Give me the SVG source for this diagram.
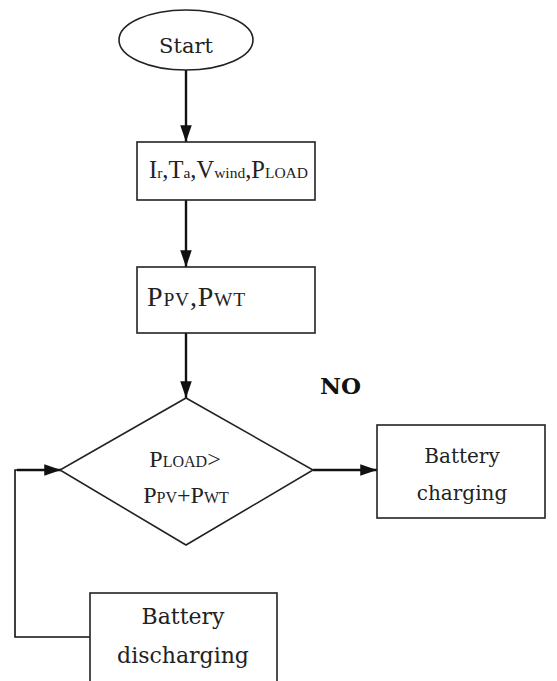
<svg xmlns="http://www.w3.org/2000/svg" width="557" height="681" viewBox="0 0 557 681">
<style>
.shape{fill:#fff;stroke:#222;stroke-width:1.6}
.lbl{font-family:"DejaVu Serif","Liberation Serif",serif;fill:#222;text-anchor:middle}
.math{font-family:"Liberation Serif","DejaVu Serif",serif;fill:#222}
.conn{fill:none;stroke:#111;stroke-width:2.4}
.thin{fill:none;stroke:#111;stroke-width:1.6}
.no{font-family:"DejaVu Serif","Liberation Serif",serif;font-size:23px;font-weight:bold;fill:#111}
</style>
<defs>
<marker id="ah" viewBox="0 0 16 11" refX="16" refY="5.5" markerWidth="7" markerHeight="4.8" markerUnits="strokeWidth" orient="auto">
<path d="M0,0 L16,5.5 L0,11 z" fill="#111"/>
</marker>
</defs>
<rect width="557" height="681" fill="#fff"/>
<g id="connectors">
<line class="conn" x1="186" y1="70" x2="186" y2="142" marker-end="url(#ah)"/>
<line class="conn" x1="186" y1="200" x2="186" y2="267" marker-end="url(#ah)"/>
<line class="conn" x1="186" y1="333" x2="186" y2="398" marker-end="url(#ah)"/>
<line class="conn" x1="313" y1="470" x2="377" y2="470" marker-end="url(#ah)"/>
<polyline class="thin" points="90,637 15,637 15,470 30,470"/>
<line class="conn" x1="17" y1="470" x2="61" y2="470" marker-end="url(#ah)"/>
</g>
<g id="start">
<ellipse class="shape" cx="186" cy="40" rx="67" ry="30"/>
<text class="lbl" x="186" y="53" style="font-size:21px">Start</text>
</g>
<g id="inputs">
<rect class="shape" x="137" y="142" width="178" height="58"/>
<text class="math" x="149" y="178" style="font-size:24.5px">I<tspan style="font-size:15.5px">r</tspan>,T<tspan style="font-size:15.5px">a</tspan>,V<tspan style="font-size:15.5px">wind</tspan>,P<tspan style="font-size:15.5px">LOAD</tspan></text>
</g>
<g id="power">
<rect class="shape" x="137" y="267" width="178" height="66"/>
<text class="math" x="147" y="306" style="font-size:28px;letter-spacing:0.8px">P<tspan style="font-size:19.5px">PV</tspan>,P<tspan style="font-size:19.5px">WT</tspan></text>
</g>
<g id="decision">
<polygon class="shape" points="186,398 313,470 186,545 60,470"/>
<text class="math" x="185" y="467" text-anchor="middle" style="font-size:24px">P<tspan style="font-size:16px">LOAD</tspan>&gt;</text>
<text class="math" x="186" y="503" text-anchor="middle" style="font-size:24px">P<tspan style="font-size:16px">PV</tspan>+P<tspan style="font-size:16px">WT</tspan></text>
</g>
<text class="no" x="320" y="394">NO</text>
<g id="charging">
<rect class="shape" x="377" y="425" width="168" height="93"/>
<text class="lbl" x="462" y="463" style="font-size:20px">Battery</text>
<text class="lbl" x="462" y="500" style="font-size:20px">charging</text>
</g>
<g id="discharging">
<rect class="shape" x="90" y="593" width="187" height="100"/>
<text class="lbl" x="183" y="624" style="font-size:22px">Battery</text>
<text class="lbl" x="183" y="663" style="font-size:22px">discharging</text>
</g>
</svg>
